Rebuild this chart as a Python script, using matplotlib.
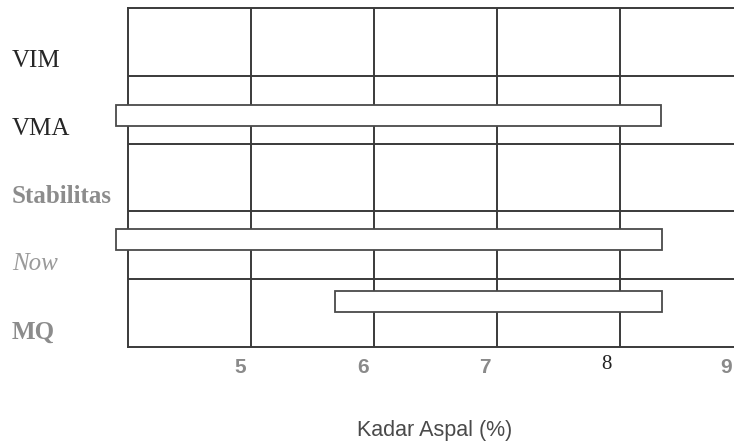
import numpy as np
import matplotlib
matplotlib.use("Agg")
import matplotlib.pyplot as plt
from matplotlib.transforms import ScaledTranslation, blended_transform_factory

# ---- data ----
categories = ["VIM", "VMA", "Stabilitas", "Now", "MQ"]
range_start = [np.nan, 3.90, np.nan, 3.90, 5.68]
range_end = [np.nan, 8.33, np.nan, 8.34, 8.34]
xtick_values = [5, 6, 7, 8, 9]
xtick_labels = ["5", "6", "7", "8", "9"]
xlabel = "Kadar Aspal (%)"

# ---- style ----
bar_shift = [0, 0.08, 0, -0.08, -0.17]
bar_height = 0.31
cat_styles = [
    dict(color="#262626", family="Liberation Serif", weight="normal", style="normal"),
    dict(color="#262626", family="Liberation Serif", weight="normal", style="normal"),
    dict(color="#8c8c8c", family="Liberation Serif", weight="bold", style="normal"),
    dict(color="#9a9a9a", family="Liberation Serif", weight="normal", style="italic"),
    dict(color="#8c8c8c", family="Liberation Serif", weight="bold", style="normal"),
]
tick_dx_px = [-11, -11, -12, -14, -17]

fig = plt.figure(figsize=(7.34, 4.41), dpi=100)
L, R = 128 / 734, 743 / 734
B, T = 1 - 347 / 441, 1 - 8 / 441
ax = fig.add_axes([L, B, R - L, T - B])

ax.set_xlim(4, 9)
ax.set_ylim(len(categories) - 0.5, -0.5)

grid_col = "#3a3a3a"
for s in ["left", "bottom", "top"]:
    ax.spines[s].set_color(grid_col)
    ax.spines[s].set_linewidth(1.4)
ax.spines["right"].set_visible(False)

ax.tick_params(axis="both", which="both", length=0, pad=4)
ax.set_xticks(xtick_values)
ax.set_xticklabels(xtick_labels)
ax.set_yticks(np.arange(len(categories)))
ax.set_yticklabels([])
ax.set_yticks(np.arange(len(categories) - 1) + 0.5, minor=True)
ax.grid(True, axis="x", which="major", color=grid_col, linewidth=1.4)
ax.grid(True, axis="y", which="minor", color=grid_col, linewidth=1.4)
ax.set_axisbelow(True)

# x tick labels
for lab, dx, txt in zip(ax.get_xticklabels(), tick_dx_px, xtick_labels):
    if txt == "8":
        lab.set_fontfamily("Liberation Serif")
        lab.set_fontsize(15)
        lab.set_color("#222222")
        dy = -2
    else:
        lab.set_fontfamily("Liberation Sans")
        lab.set_fontweight("bold")
        lab.set_fontsize(15)
        lab.set_color("#8a8a8a")
        dy = -5
    lab.set_transform(lab.get_transform() + ScaledTranslation(dx / 100, dy / 100, fig.dpi_scale_trans))

# category labels
tr = blended_transform_factory(fig.transFigure, ax.transData) + ScaledTranslation(0, -19 / 100, fig.dpi_scale_trans)
for i, (cat, st) in enumerate(zip(categories, cat_styles)):
    ax.text(12 / 734, i, cat, transform=tr, ha="left", va="center",
            fontsize=18, fontfamily=st["family"], fontweight=st["weight"],
            fontstyle=st["style"], color=st["color"], clip_on=False)

# range bars
for i in range(len(categories)):
    s, e = range_start[i], range_end[i]
    if np.isnan(s):
        continue
    bars = ax.barh(i + bar_shift[i], e - s, left=s, height=bar_height,
                   color="white", edgecolor="#4a4a4a", linewidth=1.3, zorder=3)
    for b in bars:
        b.set_clip_on(False)

ax.set_xlabel(xlabel, fontsize=15.5, fontfamily="Liberation Sans", color="#4a4a4a", labelpad=31)
ax.xaxis.label.set_x((435 - 128) / (743 - 128))

fig.savefig("out.png", dpi=100)
